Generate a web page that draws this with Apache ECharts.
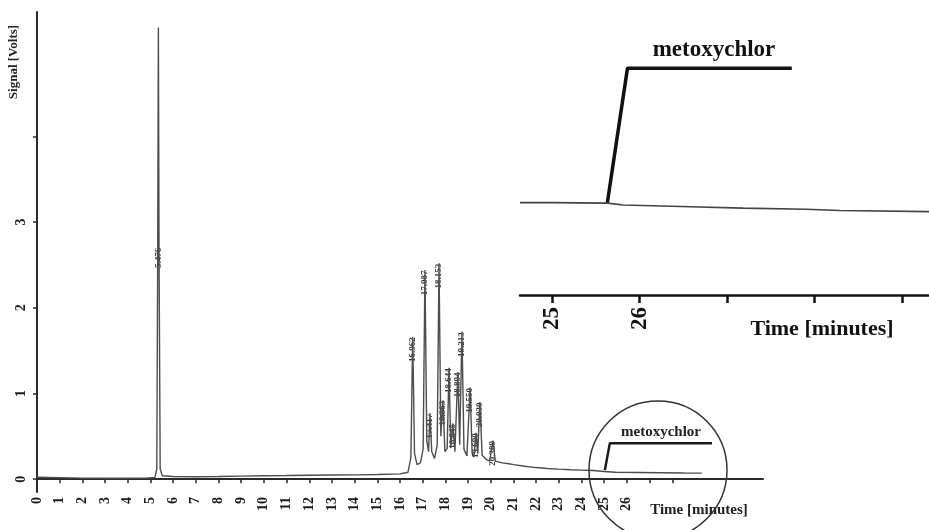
<!DOCTYPE html>
<html><head><meta charset="utf-8">
<script src="https://cdn.jsdelivr.net/npm/echarts@6/dist/echarts.min.js"></script>
<style>html,body{margin:0;padding:0;background:#fff}#c{width:929px;height:530px}</style>
</head><body><div id="c"></div>
<script>
// Main chromatogram trace (time in minutes, signal in volts)
const traceTime = [0,0.5,1,2,3,4,4.8,5.2,5.28,5.32,5.35,5.38,5.43,5.52,6,7,8,9,10,11,12,13,14,15,16,16.35,16.48,16.56,16.64,16.75,16.9,17.02,17.10,17.18,17.26,17.32,17.40,17.52,17.64,17.72,17.80,17.89,17.98,18.08,18.16,18.24,18.33,18.42,18.55,18.63,18.73,18.82,18.95,19.09,19.18,19.26,19.35,19.43,19.52,19.62,19.8,19.95,20.10,20.2,20.5,20.8,21.0,21.5,22.0,22.5,23.0,23.5,24.0,24.5,25.0,25.5,26.5,27.5,28.5,29.3];
const traceSignal = [0.022,0.02,0.018,0.012,0.01,0.01,0.012,0.02,0.12,2.6,5.27,2.6,0.12,0.04,0.03,0.028,0.03,0.035,0.04,0.042,0.045,0.048,0.05,0.055,0.062,0.08,0.25,1.66,0.3,0.17,0.19,0.35,2.44,0.45,0.32,0.77,0.32,0.24,0.4,2.52,0.5,0.92,0.32,0.36,1.30,0.36,0.65,0.32,1.25,0.4,1.72,0.35,0.27,1.07,0.3,0.26,0.54,0.3,0.90,0.28,0.23,0.21,0.45,0.21,0.19,0.18,0.17,0.15,0.135,0.125,0.117,0.11,0.105,0.1,0.09,0.08,0.078,0.075,0.072,0.07];
// Peak annotations
const peakTime = [5.35,16.56,17.10,17.32,17.72,17.89,18.16,18.33,18.55,18.73,19.09,19.35,19.52,20.10];
const peakSignal = [5.27,1.66,2.44,0.77,2.52,0.92,1.30,0.65,1.25,1.72,1.07,0.54,0.90,0.45];
const peakLabel = ['5.476','16.962','17.087','17.417','18.153','18.363','18.644','18.845','18.894','19.213','19.550','19.690','20.030','20.389'];
// Metoxychlor marker in the main chart
const markerTime = [25.03,25.25,29.75];
const markerSignal = [0.105,0.42,0.42];
// Inset (zoomed) trace, relative signal
const insetTime = [24.63,25.0,25.3,25.63,25.81,26.58,27.18,27.9,28.29,29.31];
const insetSignal = [0.336,0.336,0.335,0.334,0.327,0.321,0.316,0.312,0.307,0.303];
const insetMarkerTime = [25.63,25.86,27.74];
const insetMarkerSignal = [0.336,0.825,0.825];
// Axis ticks / labels
const xTickValues = [0,1,2,3,4,5,6,7,8,9,10,11,12,13,14,15,16,17,18,19,20,21,22,23,24,25,26,27,28];
const xLabelValues = [0,1,2,3,4,5,6,7,8,9,10,11,12,13,14,15,16,17,18,19,20,21,22,23,24,25,26];
const yTickValues = [0,1,2,3,4];
const yLabelValues = [0,1,2,3];
const insetTickValues = [25,26,27,28,29];
const insetLabelValues = [25,26];

const FONT = 'Liberation Serif';
const zip = (a,b) => a.map((v,i)=>[v,b[i]]);
const peakLabelData = peakTime.map((t,i)=>({
  value:[t, peakSignal[i] > 4 ? peakSignal[i]*0.49 : peakSignal[i]-0.15],
  name: peakLabel[i]
}));

const chart = echarts.init(document.getElementById('c'), null, {renderer:'canvas'});
chart.setOption({
  animation:false,
  backgroundColor:'#fff',
  grid:[
    {left:37, top:12, width:726, height:480},
    {left:520, top:20, width:409, height:275}
  ],
  xAxis:[
    {type:'value', gridIndex:0, min:0, max:32, splitLine:{show:false},
     axisLine:{lineStyle:{color:'#2a2a2a', width:2}},
     axisTick:{customValues:xTickValues, length:4, lineStyle:{color:'#2a2a2a', width:1.5}},
     axisLabel:{customValues:xLabelValues, rotate:90, margin:5, fontFamily:FONT, fontWeight:'bold', fontSize:14, color:'#1a1a1a'}},
    {type:'value', gridIndex:1, min:24.63, max:29.31, splitLine:{show:false},
     axisLine:{lineStyle:{color:'#111', width:2.5}},
     axisTick:{customValues:insetTickValues, length:8, lineStyle:{color:'#111', width:2.5}},
     axisLabel:{customValues:insetLabelValues, rotate:90, margin:12, fontFamily:FONT, fontWeight:'bold', fontSize:23, color:'#111'}}
  ],
  yAxis:[
    {type:'value', gridIndex:0, min:-0.15, max:5.45, splitLine:{show:false},
     axisLine:{show:true, lineStyle:{color:'#2a2a2a', width:2}},
     axisTick:{show:true, customValues:yTickValues, length:4, lineStyle:{color:'#2a2a2a', width:1.5}},
     axisLabel:{customValues:yLabelValues, rotate:90, margin:9, fontFamily:FONT, fontWeight:'bold', fontSize:14, color:'#1a1a1a'}},
    {type:'value', gridIndex:1, min:0, max:1, show:false}
  ],
  series:[
    {type:'line', xAxisIndex:0, yAxisIndex:0, data:zip(traceTime,traceSignal), symbol:'none',
     lineStyle:{color:'#4d4d4d', width:1.4}},
    {type:'line', xAxisIndex:0, yAxisIndex:0, data:zip(markerTime,markerSignal), symbol:'none',
     lineStyle:{color:'#1a1a1a', width:2.5}},
    {type:'scatter', xAxisIndex:0, yAxisIndex:0, data:peakLabelData, symbolSize:1,
     itemStyle:{color:'rgba(0,0,0,0)'},
     label:{show:true, position:'inside', rotate:90, formatter:p=>p.name, fontFamily:FONT, fontWeight:'bold', fontSize:9, color:'#000'}},
    {type:'line', xAxisIndex:1, yAxisIndex:1, data:zip(insetTime,insetSignal), symbol:'none',
     lineStyle:{color:'#444', width:1.6}},
    {type:'line', xAxisIndex:1, yAxisIndex:1, data:zip(insetMarkerTime,insetMarkerSignal), symbol:'none',
     lineStyle:{color:'#111', width:3.5}}
  ],
  graphic:[
    {type:'text', x:14, y:62, rotation:Math.PI/2,
     style:{text:'Signal [Volts]', fontFamily:FONT, fontWeight:'bold', fontSize:13, fill:'#222', textAlign:'center', textVerticalAlign:'middle'}},
    {type:'text', x:699, y:510,
     style:{text:'Time [minutes]', fontFamily:FONT, fontWeight:'bold', fontSize:15, fill:'#222', textAlign:'center', textVerticalAlign:'middle'}},
    {type:'text', x:661, y:432,
     style:{text:'metoxychlor', fontFamily:FONT, fontWeight:'bold', fontSize:15, fill:'#222', textAlign:'center', textVerticalAlign:'middle'}},
    {type:'text', x:714, y:50,
     style:{text:'metoxychlor', fontFamily:FONT, fontWeight:'bold', fontSize:23, fill:'#111', textAlign:'center', textVerticalAlign:'middle'}},
    {type:'text', x:822, y:329,
     style:{text:'Time [minutes]', fontFamily:FONT, fontWeight:'bold', fontSize:22, fill:'#111', textAlign:'center', textVerticalAlign:'middle'}},
    {type:'circle', shape:{cx:658, cy:470, r:69}, style:{fill:'none', stroke:'#333', lineWidth:1.5}, z:10}
  ]
});
</script></body></html>
